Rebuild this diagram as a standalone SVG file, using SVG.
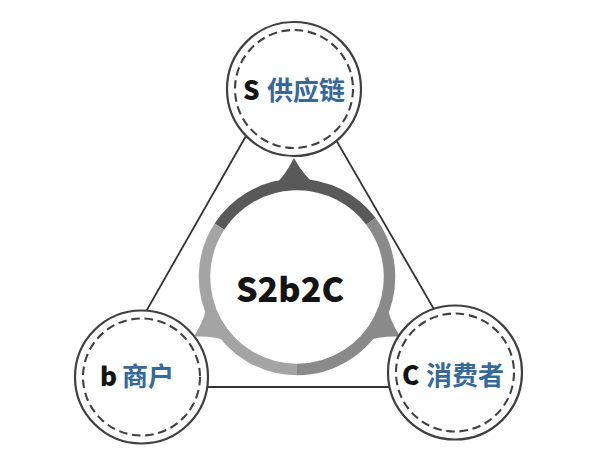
<svg xmlns="http://www.w3.org/2000/svg" width="600" height="465" viewBox="0 0 600 465">
<style>
.edge{fill:none;stroke:#333333;stroke-width:1.8}
.outer{fill:#ffffff;stroke:#404040;stroke-width:2.2}
.dash{fill:none;stroke:#404040;stroke-width:2.1;stroke-dasharray:8.5 4.75}
.lat{font-family:"Noto Sans CJK SC","Noto Sans",sans-serif;font-weight:900;fill:#141414}
.cjk{font-family:"Noto Sans CJK SC",sans-serif;font-weight:bold;fill:#36689c}
.seg{fill:none;stroke-width:11.5;stroke-linecap:butt}
</style>
<defs>
<path id="arr" d="M-21,-92 Q-10,-100 0,-119 Q10,-100 21,-92 Z"/>
</defs>
<rect width="600" height="465" fill="#ffffff"/>
<g id="connectors">
<polygon class="edge" points="289.5,59.5 103,387 479,387"/>
</g>
<g id="hub">
<path class="seg" stroke="#595959" d="M219.42,226.62 A92.5,92.5 0 0 1 370.87,221.33"/>
<path class="seg" stroke="#8a8a8a" d="M370.87,221.33 A92.5,92.5 0 0 1 297,369.5"/>
<path class="seg" stroke="#a4a4a4" d="M297,369.5 A92.5,92.5 0 0 1 219.42,226.62"/>
<use href="#arr" fill="#595959" transform="translate(297,277) rotate(-1.5)"/>
<use href="#arr" fill="#8a8a8a" transform="translate(297,277) rotate(120)"/>
<use href="#arr" fill="#a4a4a4" transform="translate(297,277) rotate(-120)"/>
<text class="lat" x="290" y="302" font-size="34" text-anchor="middle">S2b2C</text>
</g>
<g id="node-s">
<circle class="outer" cx="294" cy="89" r="67"/>
<circle class="dash" cx="294" cy="89" r="59"/>
<text font-size="26" y="100"><tspan class="lat" x="243">S</tspan><tspan class="cjk" x="267">供应链</tspan></text>
</g>
<g id="node-b">
<circle class="outer" cx="141.5" cy="377" r="66.5"/>
<circle class="dash" cx="141.5" cy="377" r="58.5"/>
<text font-size="26" y="386"><tspan class="lat" x="100">b</tspan><tspan class="cjk" x="122">商户</tspan></text>
</g>
<g id="node-c">
<circle class="outer" cx="455" cy="372.5" r="67"/>
<circle class="dash" cx="455" cy="372.5" r="59"/>
<text font-size="26" y="385"><tspan class="lat" x="402">C</tspan><tspan class="cjk" x="426">消费者</tspan></text>
</g>
</svg>
